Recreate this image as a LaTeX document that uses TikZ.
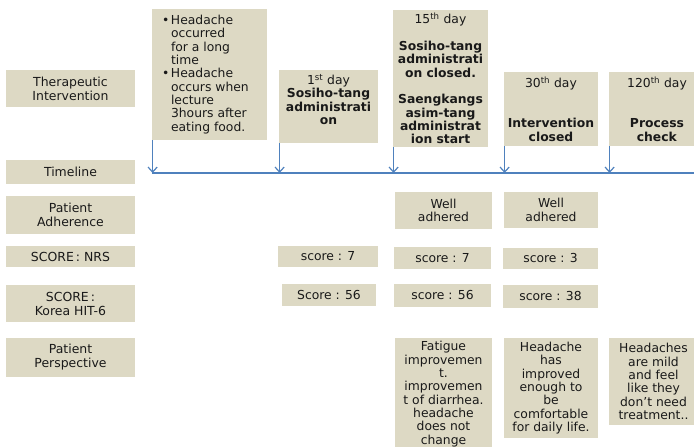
\documentclass[tikz,border=0pt]{standalone}
\usepackage{fontspec}
\setmainfont{DejaVu Sans}
\usetikzlibrary{arrows.meta}
\definecolor{boxfill}{RGB}{221,217,196}
\definecolor{textc}{RGB}{25,25,25}
\definecolor{linec}{RGB}{79,129,189}
\begin{document}
\begin{tikzpicture}[x=1bp,y=-1bp,
  box/.style={fill=boxfill, inner sep=0pt, align=center, text=textc, font=\fontsize{12.4}{13.4}\selectfont},
  lbl/.style={box, minimum width=129bp, font=\fontsize{12.5}{14}\selectfont},
  txt/.style={inner sep=0pt, align=center, text=textc, font=\fontsize{12.4}{13.4}\selectfont},
  arr/.style={draw=linec, line width=1.2bp, -{Straight Barb[length=5bp,width=9bp,line width=1.2bp]}},
  tline/.style={draw=linec, line width=1.6bp}]
\useasboundingbox (0,0) rectangle (694,447);
\clip (0,0) rectangle (694,447);

% row labels
\node[lbl, minimum height=37bp] (lTI) at (70.5,88.5) {Therapeutic\\Intervention};
\node[lbl, minimum height=24bp] (lTL) at (70.5,172) {Timeline};
\node[lbl, minimum height=38bp] (lPA) at (70.5,215) {Patient\\Adherence};
\node[lbl, minimum height=21bp] (lNRS) at (70.5,256.5) {SCORE\,:\ NRS};
\node[lbl, minimum height=37bp] (lHIT) at (70.5,303.5) {SCORE\,:\\Korea HIT-6};
\node[lbl, minimum height=39bp] (lPP) at (70.5,357.5) {Patient\\Perspective};

% therapeutic intervention boxes
\node[box, minimum width=115bp, minimum height=131bp] (c1) at (209.5,74.5) {};
\node[txt, anchor=west, align=left] (c1t) at ([xshift=10bp]c1.west)
  {\makebox[9bp][l]{•}Headache\\ \hspace*{9bp}occurred\\ \hspace*{9bp}for a long\\ \hspace*{9bp}time\\
   \makebox[9bp][l]{•}Headache\\ \hspace*{9bp}occurs when\\ \hspace*{9bp}lecture\\ \hspace*{9bp}3hours after\\ \hspace*{9bp}eating food.};

\node[box, minimum width=99bp, minimum height=73bp] (c2) at (328.5,106.5) {};
\node[txt, anchor=north] (c2t) at ([yshift=-4bp]c2.north)
  {1\textsuperscript{st} day\\ \textbf{Sosiho-tang}\\ \textbf{administrati}\\ \textbf{on}};

\node[box, minimum width=95bp, minimum height=137bp] (c3) at (440.5,78.5)
  {15\textsuperscript{th} day\\[13.4bp]\textbf{Sosiho-tang}\\ \textbf{administrati}\\ \textbf{on closed.}\\[13.4bp]
   \textbf{Saengkangs}\\ \textbf{asim-tang}\\ \textbf{administrat}\\ \textbf{ion start}};

\node[box, minimum width=94bp, minimum height=74bp] (c4) at (551,109)
  {30\textsuperscript{th} day\\[26.8bp]\textbf{Intervention}\\ \textbf{closed}};

\node[box, minimum width=96bp, minimum height=74bp] (c5) at (657,109)
  {120\textsuperscript{th} day\\[26.8bp]\textbf{Process}\\ \textbf{check}};

% timeline
\coordinate (tA) at (152,173);
\coordinate (tB) at (694,173);
\draw[tline] (tA) -- (tB);
\foreach \c in {c1,c2,c3,c4,c5}
  \draw[arr] ([xshift=0.8bp]\c.south west) -- ([xshift=0.8bp]\c.south west |- tA);

% patient adherence
\node[box, minimum width=97bp, minimum height=37bp] (a3) at (443.5,210.5) {Well\\adhered};
\node[box, minimum width=94bp, minimum height=36bp] (a4) at (551,210) {Well\\adhered};

% NRS
\node[box, minimum width=100bp, minimum height=21bp] (n2) at (328,256.5) {score : 7};
\node[box, minimum width=97bp, minimum height=22bp] (n3) at (442.5,258) {score : 7};
\node[box, minimum width=95bp, minimum height=21bp] (n4) at (550.5,258.5) {score : 3};

% HIT-6
\node[box, minimum width=94bp, minimum height=22bp] (h2) at (329,295) {Score : 56};
\node[box, minimum width=97bp, minimum height=23bp] (h3) at (442.5,295.5) {score : 56};
\node[box, minimum width=95bp, minimum height=23bp] (h4) at (550.5,296.5) {score : 38};

% patient perspective
\node[box, minimum width=97bp, minimum height=112bp] (p3) at (443.5,394)
  {Fatigue\\improvemen\\t.\\improvemen\\t of diarrhea.\\headache\\does not\\change};
\node[box, minimum width=94bp, minimum height=100bp] (p4) at (551,388)
  {Headache\\has\\improved\\enough to\\be\\comfortable\\for daily life.};
\node[box, minimum width=89bp, minimum height=87bp] (p5) at (653.5,381.5)
  {Headaches\\are mild\\and feel\\like they\\don't need\\treatment..};
\end{tikzpicture}
\end{document}
